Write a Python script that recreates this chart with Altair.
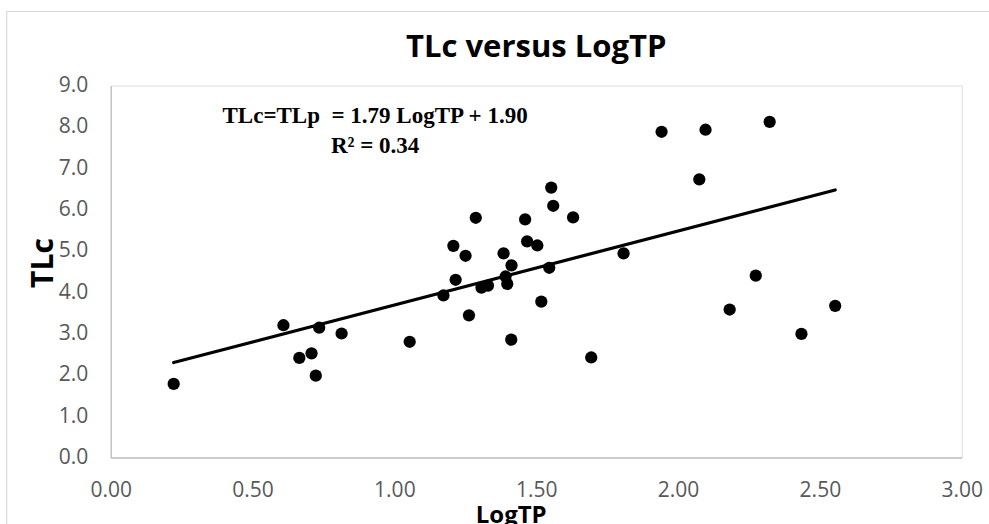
import altair as alt
import pandas as pd

# LogTP (x) and TLc (y) observations
log_tp = [0.222, 0.609, 0.665, 0.708, 0.723, 0.735, 0.814, 1.054, 1.173, 1.208,
          1.216, 1.251, 1.263, 1.287, 1.307, 1.330, 1.385, 1.392, 1.398, 1.413,
          1.412, 1.461, 1.468, 1.504, 1.518, 1.546, 1.553, 1.560, 1.630, 1.694,
          1.808, 1.942, 2.075, 2.097, 2.182, 2.274, 2.323, 2.435, 2.554]
tlc = [1.78, 3.20, 2.41, 2.52, 1.98, 3.14, 3.00, 2.80, 3.92, 5.12,
       4.30, 4.88, 3.44, 5.80, 4.11, 4.16, 4.94, 4.38, 4.20, 4.65,
       2.85, 5.76, 5.23, 5.13, 3.77, 4.59, 6.53, 6.09, 5.81, 2.42,
       4.94, 7.88, 6.73, 7.93, 3.58, 4.40, 8.12, 2.99, 3.67]

# Fitted linear trend
slope = 1.79
intercept = 1.90
r_squared = 0.34

x_ticks = [0.0, 0.5, 1.0, 1.5, 2.0, 2.5, 3.0]
y_ticks = [0, 1, 2, 3, 4, 5, 6, 7, 8, 9]

points = pd.DataFrame({"LogTP": log_tp, "TLc": tlc})
x_min, x_max = min(log_tp), max(log_tp)
trend = pd.DataFrame({
    "LogTP": [x_min, x_max],
    "TLc": [slope * x_min + intercept, slope * x_max + intercept],
})

FONT = "Open Sans"
AXIS_GRAY = "#bfbfbf"
LABEL_GRAY = "#595959"

x_enc = alt.X(
    "LogTP:Q",
    scale=alt.Scale(domain=[0, 3], nice=False),
    axis=alt.Axis(
        values=x_ticks, format=".2f", grid=False, ticks=False, tickSize=0,
        labelFlush=False, labelOverlap=False,
        domainColor=AXIS_GRAY, domainWidth=1.3,
        labelFont=FONT, labelFontSize=21, labelColor=LABEL_GRAY, labelPadding=22,
        title="LogTP", titleFont=FONT, titleFontSize=24, titleFontWeight="bold",
        titleColor="black", titleX=400, titleY=65, titleBaseline="alphabetic",
        titleAlign="center",
    ),
)
y_enc = alt.Y(
    "TLc:Q",
    scale=alt.Scale(domain=[0, 9], nice=False),
    axis=alt.Axis(
        values=y_ticks, format=".1f", grid=False, ticks=False, tickSize=0,
        labelFlush=False, labelOverlap=False,
        domainColor=AXIS_GRAY, domainWidth=1.3,
        labelFont=FONT, labelFontSize=21, labelColor=LABEL_GRAY, labelPadding=23,
        title="TLc", titleFont=FONT, titleFontSize=30, titleFontWeight="bold",
        titleColor="black", titleX=-58, titleY=177, titleBaseline="alphabetic",
        titleAlign="center", titleAngle=270,
    ),
)

# light outer frame of the chart area
frame = alt.Chart(pd.DataFrame({"k": [0]})).mark_rect(
    fill=None, stroke="#d9d9d9", strokeWidth=1.2
).encode(
    x=alt.value(-104), x2=alt.value(1000),
    y=alt.value(-74), y2=alt.value(600),
)

scatter = alt.Chart(points).mark_point(
    filled=True, color="black", size=150, opacity=1, shape="circle"
).encode(x=x_enc, y=y_enc)

line = alt.Chart(trend).mark_line(
    color="black", strokeWidth=3.2, strokeCap="round"
).encode(x="LogTP:Q", y="TLc:Q")

equation = alt.Chart(pd.DataFrame({"k": [0]})).mark_text(
    text=[f"TLc=TLp\u00a0 = {slope:.2f} LogTP + {intercept:.2f}", f"R\u00b2 = {r_squared:.2f}"],
    font="Liberation Serif", fontSize=23, fontWeight="bold", color="black",
    align="center", baseline="alphabetic", lineHeight=30,
).encode(x=alt.datum(0.932), y=alt.datum(8.09))

chart = alt.layer(frame, line, scatter, equation).properties(
    width=851,
    height=372,
    padding={"left": 110.7, "top": 85.5, "right": 27.3, "bottom": 66.5},
    autosize=alt.AutoSizeParams(type="none"),
    title=alt.TitleParams(
        "TLc versus LogTP", font=FONT, fontSize=31, fontWeight="bold",
        color="black", anchor="middle", offset=0, baseline="alphabetic", dy=77.5,
    ),
).configure_view(stroke=None).configure(background="white")

chart.save("out.html", embed_options={"renderer": "svg", "actions": False})
